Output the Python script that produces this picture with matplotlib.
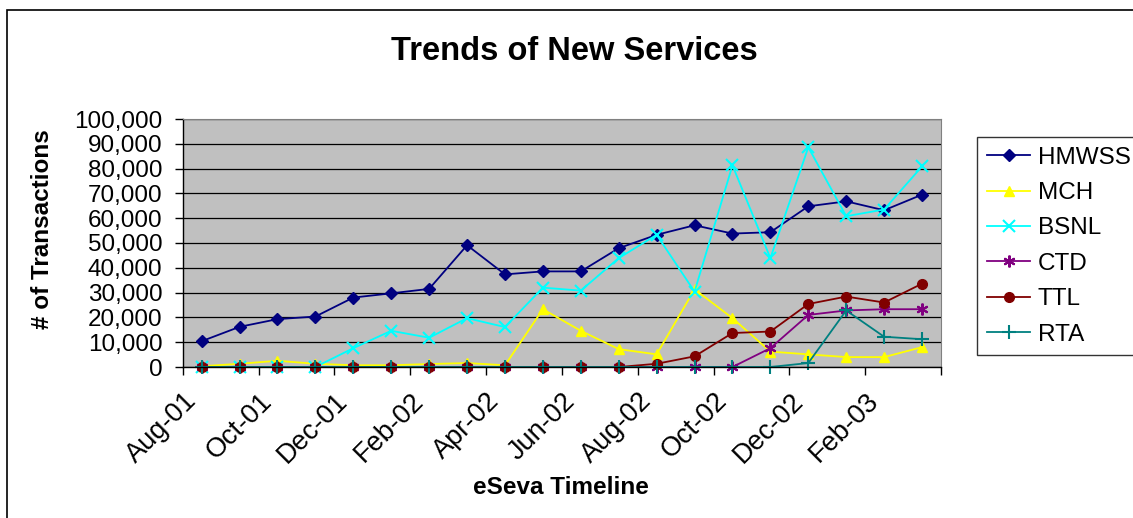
import matplotlib
matplotlib.use("Agg")
import matplotlib.pyplot as plt
import matplotlib.ticker as mticker
from matplotlib.patches import Rectangle

# =========================
# Data
# =========================
months = ["Aug-01", "Sep-01", "Oct-01", "Nov-01", "Dec-01", "Jan-02", "Feb-02",
          "Mar-02", "Apr-02", "May-02", "Jun-02", "Jul-02", "Aug-02", "Sep-02",
          "Oct-02", "Nov-02", "Dec-02", "Jan-03", "Feb-03", "Mar-03"]

hmwss = [10400, 16200, 19300, 20350, 28000, 29700, 31500, 49100, 37350, 38550,
         38550, 47900, 53300, 57150, 53800, 54350, 64800, 66800, 63200, 69500]
mch = [300, 1300, 2500, 1300, 700, 700, 1200, 1600, 700, 23300,
       14600, 7200, 5100, 31300, 19700, 6200, 5100, 4000, 4000, 8000]
bsnl = [0, 0, 0, 0, 7600, 14600, 11800, 19700, 16100, 32000,
        30800, 43900, 53300, 30400, 81300, 43900, 88600, 60800, 63500, 80900]
ctd = [0, 0, 0, 0, 0, 0, 0, 0, 0, 0,
       0, 0, 0, 0, 0, 7600, 21000, 22800, 23300, 23300]
ttl = [0, 0, 0, 0, 0, 0, 0, 0, 0, 0,
       0, 0, 1300, 4300, 13700, 14300, 25400, 28400, 26000, 33600]
rta = [0, 0, 0, 0, 0, 0, 0, 0, 0, 0,
       0, 0, 0, 0, 0, 0, 1600, 22800, 12200, 11200]

series_names = ["HMWSS", "MCH", "BSNL", "CTD", "TTL", "RTA"]
series_values = [hmwss, mch, bsnl, ctd, ttl, rta]

# =========================
# Styles
# =========================
colors = ["#000080", "#FFFF00", "#00FFFF", "#800080", "#800000", "#008080"]
markers = ["D", "^", "x", (6, 2, 0), "o", "+"]
msizes = [6.5, 7.5, 8.5, 8.5, 7, 9.5]

plt.rcParams["font.family"] = ["Liberation Sans", "DejaVu Sans"]

W, H = 1133, 518
fig = plt.figure(figsize=(W / 100, H / 100), dpi=100)
fig.patch.set_facecolor("white")

# plot area in pixel coords of the reference
left, right, top, bottom = 182.7, 941, 119, 367
ax = fig.add_axes([left / W, 1 - bottom / H, (right - left) / W, (bottom - top) / H])
ax.set_facecolor("#C0C0C0")

x = list(range(len(months)))
for name, vals, c, m, ms in zip(series_names, series_values, colors, markers, msizes):
    ax.plot(x, vals, color=c, marker=m, markersize=ms, linewidth=1.3,
            markeredgewidth=1.5 if m in ("x", "+", (6, 2, 0)) else 1,
            markerfacecolor=c, markeredgecolor=c, label=name, clip_on=False)

ax.set_xlim(-0.5, len(months) - 0.5)
ax.set_ylim(0, 100000)

# y axis
ax.yaxis.set_major_locator(mticker.MultipleLocator(10000))
ax.yaxis.set_major_formatter(mticker.FuncFormatter(lambda v, p: f"{int(v):,}"))
ax.tick_params(axis="y", direction="out", length=5.5, width=1, pad=9, labelsize=17.5)
ax.grid(axis="y", color="black", linewidth=0.9)
ax.set_axisbelow(True)

# x axis: tick marks between every two categories, labels on every other month
ax.set_xticks([i - 0.5 for i in range(0, len(months) + 1, 2)])
ax.set_xticklabels([])
ax.set_xticks(x[::2], minor=True)
ax.set_xticklabels(months[::2], minor=True, rotation=45, ha="right", va="top",
                   fontsize=19.5)
ax.tick_params(axis="x", which="major", direction="out", length=5.5, width=1)
ax.tick_params(axis="x", which="minor", length=0, pad=15)

for side in ["top", "right"]:
    ax.spines[side].set_color("#808080")
for side in ["left", "bottom"]:
    ax.spines[side].set_color("black")
    ax.spines[side].set_linewidth(1)

# titles
fig.text(574 / W, 1 - 60 / H, "Trends of New Services", ha="center", va="baseline",
         fontsize=23.5, fontweight="bold")
fig.text(43 / W, 1 - 229 / H, "# of Transactions", ha="center", va="center",
         rotation=90, fontsize=17.5, fontweight="bold")
fig.text(561 / W, 1 - 487 / H, "eSeva Timeline", ha="center", va="center",
         fontsize=17.5, fontweight="bold")

# legend
leg = fig.legend(loc="upper left", bbox_to_anchor=(977 / W, 1 - 137 / H),
                 bbox_transform=fig.transFigure, fontsize=17.5, frameon=True,
                 fancybox=False, borderaxespad=0, borderpad=0.4,
                 handlelength=1.8, handletextpad=0.3, labelspacing=0.55)
leg.get_frame().set_edgecolor("black")
leg.get_frame().set_linewidth(1)

# chart border
fig.patches.append(Rectangle((7 / W, -0.05), 1.1, 1 - 10 / H + 0.05,
                             transform=fig.transFigure, fill=False,
                             edgecolor="black", linewidth=1.2))

fig.savefig("out.png", dpi=100)
